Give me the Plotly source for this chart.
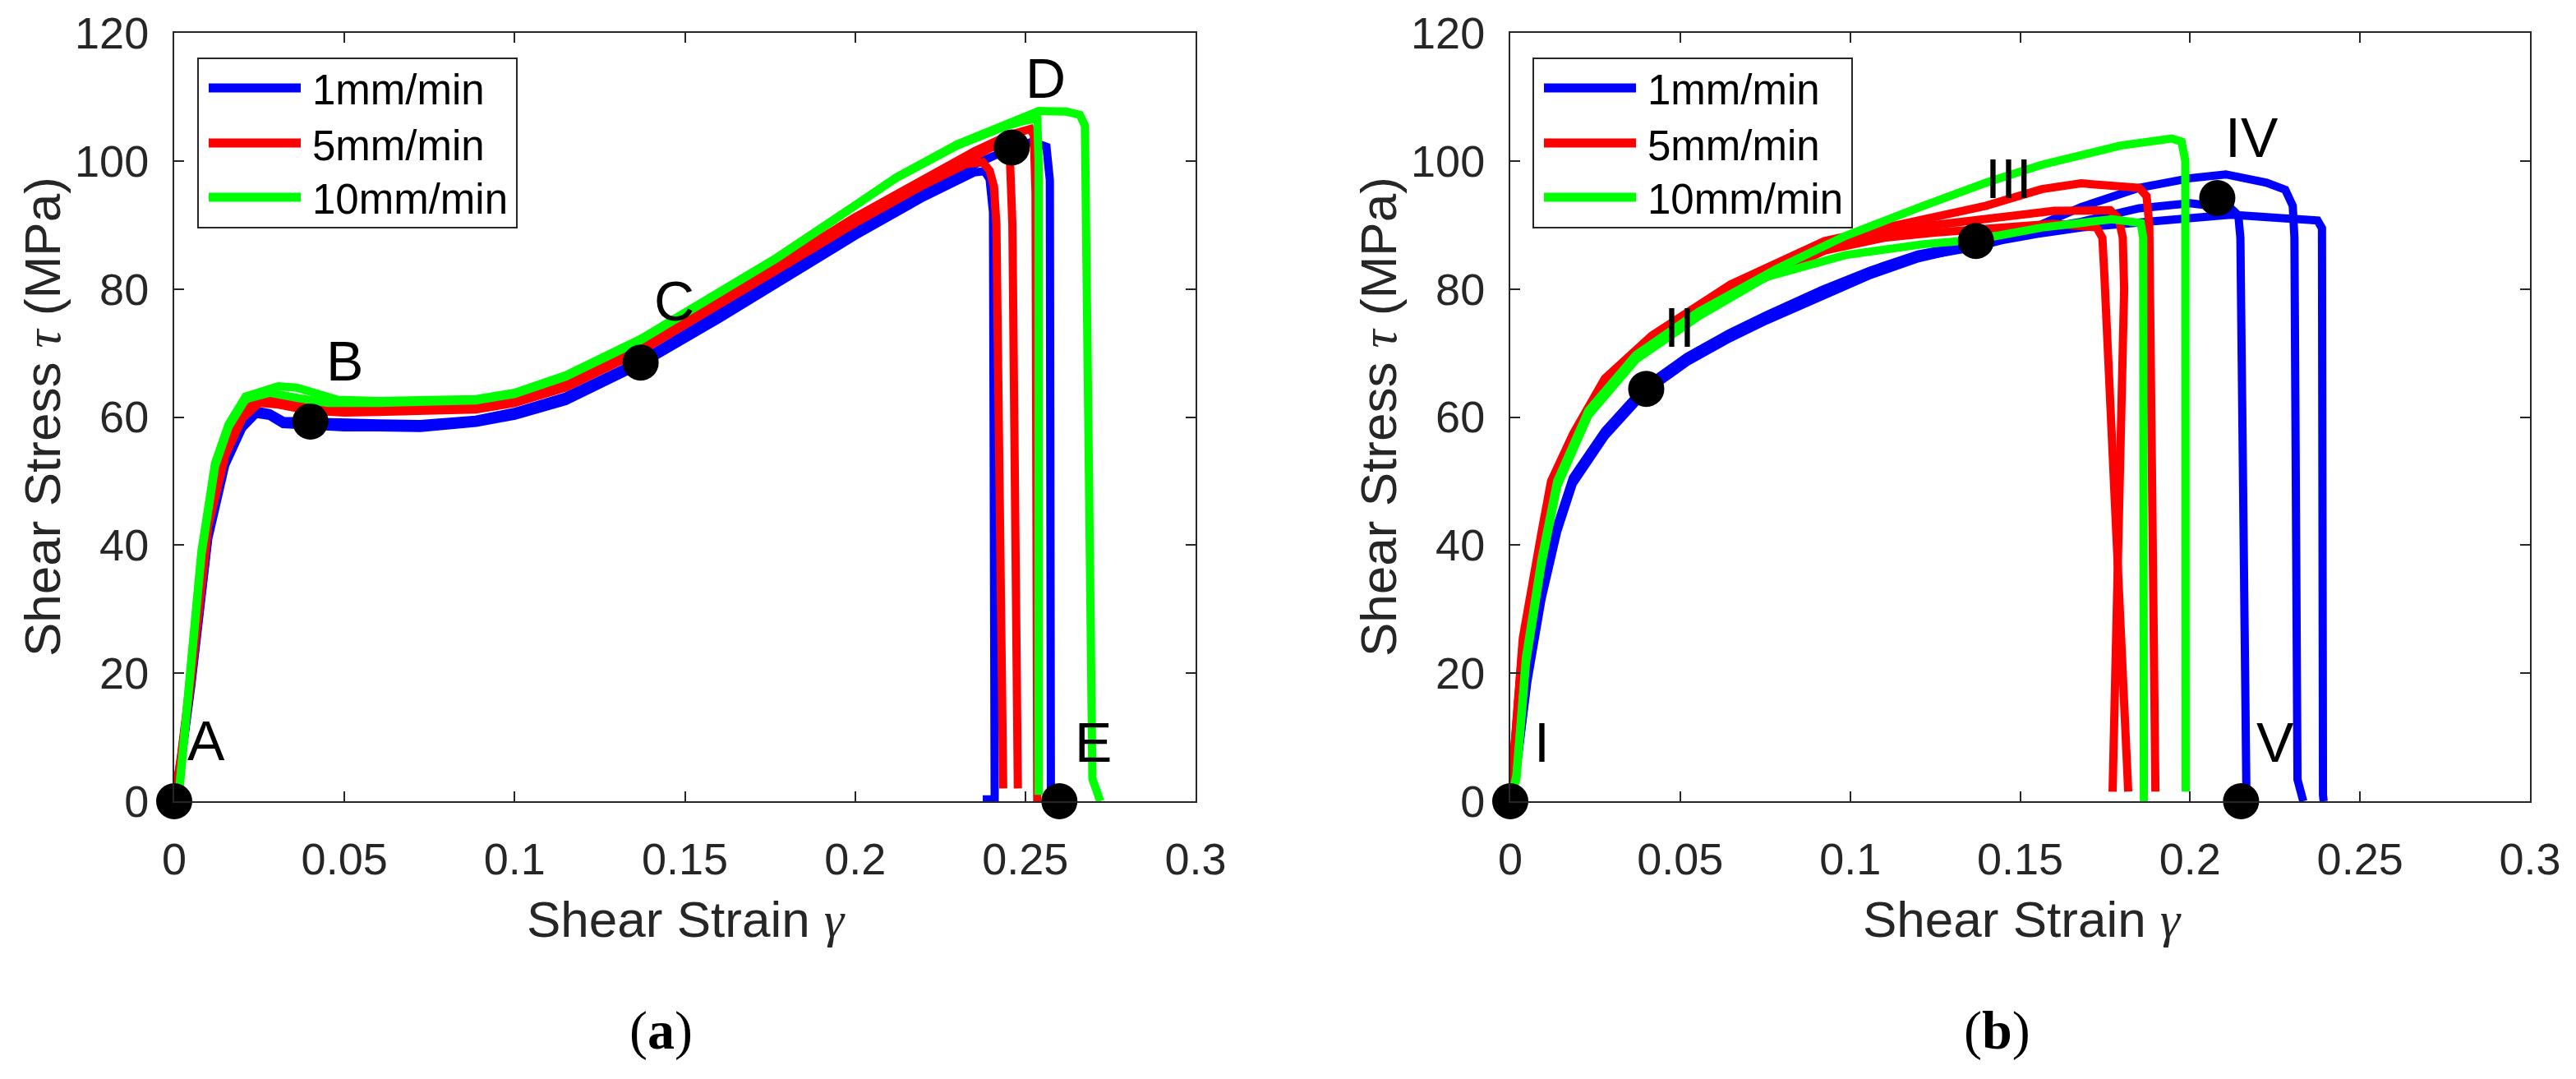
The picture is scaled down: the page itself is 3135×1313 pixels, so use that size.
import plotly.graph_objects as go

# ---------------- data : panel (a) ----------------
a_blue1_x = [0, 0.002, 0.005, 0.01, 0.015, 0.02, 0.024, 0.028, 0.032, 0.04, 0.05, 0.06, 0.0724, 0.0886, 0.10, 0.115, 0.137, 0.16, 0.18, 0.20, 0.22, 0.235, 0.238, 0.2395, 0.2405, 0.2410, 0.2410, 0.2375]
a_blue1_y = [0, 6, 18, 41, 52.5, 58.3, 60.5, 60.2, 58.9, 58.6, 58.4, 58.4, 58.3, 59.1, 60.2, 62.5, 68.2, 75.3, 81.8, 88.3, 94.3, 98.2, 98.4, 97.2, 92, 1, 0.3, 0.3]
a_blue2_x = [0, 0.002, 0.005, 0.01, 0.015, 0.02, 0.024, 0.028, 0.032, 0.04, 0.05, 0.06, 0.0724, 0.0886, 0.10, 0.115, 0.137, 0.16, 0.18, 0.20, 0.22, 0.235, 0.245, 0.252, 0.2562, 0.2572, 0.2575, 0.2578]
a_blue2_y = [0, 6.5, 18.5, 41.5, 53, 59, 61, 60.6, 59.4, 59.2, 59.0, 59.0, 58.9, 59.6, 60.8, 63.2, 68.8, 76.0, 82.6, 89.2, 95.2, 99.4, 101.8, 103.0, 102.2, 97, 2, 0]

a_red1_x = [0, 0.002, 0.005, 0.01, 0.015, 0.02, 0.025, 0.03, 0.04, 0.05, 0.06, 0.0724, 0.0886, 0.10, 0.115, 0.137, 0.16, 0.18, 0.20, 0.22, 0.2325, 0.2375, 0.2395, 0.2408, 0.2415, 0.2435]
a_red1_y = [0, 6.5, 19, 43, 54, 59.8, 62.2, 62.0, 61.0, 60.7, 60.8, 61.0, 61.2, 62.2, 64.6, 70.3, 77.4, 83.9, 90.3, 96.2, 99.5, 99.8, 98.5, 96, 90, 2]
a_red2_x = [0, 0.002, 0.005, 0.01, 0.015, 0.02, 0.025, 0.03, 0.04, 0.05, 0.06, 0.0724, 0.0886, 0.10, 0.115, 0.137, 0.16, 0.18, 0.20, 0.22, 0.235, 0.2425, 0.2445, 0.2455, 0.2462, 0.2478]
a_red2_y = [0, 6.8, 19.5, 43.5, 54.5, 60.2, 62.6, 62.3, 61.4, 61.1, 61.2, 61.4, 61.6, 62.6, 65.0, 70.6, 77.8, 84.3, 90.8, 96.6, 100.8, 102.8, 102.6, 100, 90, 2]
a_red3_x = [0, 0.002, 0.005, 0.01, 0.015, 0.02, 0.025, 0.03, 0.04, 0.05, 0.06, 0.0724, 0.0886, 0.10, 0.115, 0.137, 0.16, 0.18, 0.20, 0.22, 0.235, 0.245, 0.2515, 0.2525, 0.2530, 0.2535]
a_red3_y = [0, 7, 20, 44, 55, 60.6, 62.8, 62.6, 61.8, 61.5, 61.6, 61.8, 62.0, 63.0, 65.4, 71.0, 78.2, 84.7, 91.2, 97.0, 101.5, 104.0, 105.0, 104, 95, 0]

a_green1_x = [0, 0.0016, 0.0048, 0.008, 0.012, 0.016, 0.021, 0.0306, 0.036, 0.042, 0.048, 0.06, 0.0724, 0.0886, 0.10, 0.115, 0.137, 0.159, 0.177, 0.195, 0.212, 0.23, 0.244, 0.25, 0.2535, 0.2539, 0.2539]
a_green1_y = [0, 2.5, 20.8, 39, 52.8, 58.9, 63.2, 64.8, 64.6, 63.5, 62.7, 62.5, 62.5, 62.8, 63.8, 66.5, 72.2, 79.3, 84.9, 91.3, 97.3, 102.4, 105.4, 106.3, 106.6, 100, 1]
a_green2_x = [0, 0.0016, 0.0048, 0.008, 0.012, 0.016, 0.021, 0.028, 0.036, 0.045, 0.06, 0.0724, 0.0886, 0.10, 0.115, 0.137, 0.159, 0.177, 0.195, 0.212, 0.23, 0.244, 0.25, 0.254, 0.262, 0.266, 0.2675, 0.2697, 0.272]
a_green2_y = [0, 2.3, 20.3, 38.5, 52.3, 58.5, 62.8, 63.8, 63.0, 62.2, 62.2, 62.3, 62.6, 63.6, 66.3, 72.0, 79.1, 84.8, 91.2, 97.4, 102.6, 105.6, 107.0, 107.8, 107.7, 107.2, 105.5, 3.5, 0]

a_points_x = [0, 0.04, 0.137, 0.246, 0.26]
a_points_y = [0, 59.3, 68.5, 102.1, 0]
a_labels = ["A", "B", "C", "D", "E"]
a_label_x = [0.0094, 0.050, 0.1468, 0.2559, 0.270]
a_label_y = [9.5, 68.8, 78.1, 112.9, 9.2]

# ---------------- data : panel (b) ----------------
b_blueX_x = [0, 0.002, 0.005, 0.0092, 0.0138, 0.0184, 0.0278, 0.0396, 0.052, 0.0645, 0.0754, 0.092, 0.106, 0.12, 0.137, 0.1445, 0.155, 0.168, 0.19, 0.212, 0.2375, 0.2388, 0.2391, 0.2393]
b_blueX_y = [0, 6, 19, 32, 42.5, 50, 57.4, 64.3, 69, 72.7, 75.5, 79.5, 82.5, 85, 86.6, 87.6, 88.6, 89.6, 90.6, 91.6, 90.7, 89.5, 1, 0]
b_blueY_x = [0, 0.002, 0.005, 0.0092, 0.0138, 0.0184, 0.0278, 0.0396, 0.052, 0.0645, 0.0754, 0.092, 0.106, 0.12, 0.137, 0.1445, 0.155, 0.168, 0.185, 0.20, 0.212, 0.2142, 0.2148, 0.2166]
b_blueY_y = [0, 6.3, 19.5, 32.5, 43, 50.5, 57.8, 64.7, 69.4, 73.1, 75.9, 79.9, 82.9, 85.4, 87.1, 88.2, 89.3, 90.5, 92.6, 93.4, 92.6, 91.5, 88, 0]
b_blueZ_x = [0, 0.002, 0.005, 0.0092, 0.0138, 0.0184, 0.0278, 0.0396, 0.052, 0.0645, 0.0754, 0.092, 0.106, 0.12, 0.137, 0.1445, 0.155, 0.168, 0.185, 0.20, 0.2105, 0.2225, 0.228, 0.2302, 0.2307, 0.2316, 0.2333]
b_blueZ_y = [0, 5.7, 18.6, 31.6, 42.1, 49.6, 57.0, 63.9, 68.6, 72.3, 75.1, 79.1, 82.2, 84.8, 86.9, 88.3, 89.8, 92.8, 95.8, 97.3, 97.9, 96.6, 95.5, 93, 88, 3.4, 0]

b_redA_x = [0, 0.001, 0.0037, 0.0092, 0.012, 0.0185, 0.0278, 0.0416, 0.0648, 0.0925, 0.11, 0.125, 0.14, 0.1564, 0.168, 0.185, 0.1872, 0.1880, 0.1898]
b_redA_y = [0, 8, 25.5, 42, 50, 57.4, 66, 72.7, 80.7, 87.5, 89.5, 91.5, 93, 95.6, 96.5, 95.8, 94.5, 90, 1.5]
b_redB_x = [0, 0.001, 0.0037, 0.0092, 0.012, 0.0185, 0.0278, 0.0416, 0.0648, 0.0925, 0.11, 0.125, 0.14, 0.16, 0.1765, 0.179, 0.1802, 0.1806, 0.1772]
b_redB_y = [0, 7.6, 24.8, 41.3, 49.3, 56.8, 65.3, 72.0, 80.0, 86.7, 88.8, 90.0, 91.0, 92.2, 92.3, 91, 88, 80, 1.5]
b_redC_x = [0, 0.001, 0.0037, 0.0092, 0.012, 0.0185, 0.0278, 0.0416, 0.0648, 0.0925, 0.11, 0.125, 0.14, 0.16, 0.1725, 0.1742, 0.1748, 0.1818]
b_redC_y = [0, 7.3, 24.2, 40.6, 48.7, 56.2, 64.7, 71.4, 79.3, 86.0, 88.0, 88.8, 89.5, 90.2, 89.6, 88, 82, 1.5]

b_greenA_x = [0, 0.0018, 0.0046, 0.0092, 0.0138, 0.023, 0.037, 0.0556, 0.0786, 0.0986, 0.1216, 0.140, 0.1564, 0.1796, 0.1946, 0.1975, 0.1986, 0.1987]
b_greenA_y = [0, 4, 22.4, 37.8, 50, 61, 69.7, 76.5, 83.2, 88.3, 93, 96.6, 99.4, 102.4, 103.5, 103, 100, 1.5]
b_greenB_x = [0, 0.0018, 0.0046, 0.0092, 0.0138, 0.023, 0.037, 0.0556, 0.0754, 0.0986, 0.1216, 0.137, 0.1564, 0.177, 0.1855, 0.1862, 0.1864]
b_greenB_y = [0, 3.5, 21.5, 37, 49.2, 60.3, 69, 75.8, 81.9, 85.3, 87, 87.7, 89.6, 90.9, 90.3, 88, 0]

b_points_x = [0, 0.04, 0.137, 0.208, 0.215]
b_points_y = [0, 64.4, 87.5, 94.2, 0]
b_labels = ["I", "II", "III", "IV", "V"]
b_label_x = [0.0092, 0.0497, 0.1467, 0.2182, 0.225]
b_label_y = [9.2, 74.0, 97.3, 103.7, 9.2]

legend_names = ["1mm/min", "5mm/min", "10mm/min"]
x_ticks = [0, 0.05, 0.1, 0.15, 0.2, 0.25, 0.3]
y_ticks = [0, 20, 40, 60, 80, 100, 120]
x_title = "Shear Strain <span style='font-family:Liberation Serif'><i>γ</i></span>"
y_title = "Shear Stress <span style='font-family:Liberation Serif'><i>τ</i></span> (MPa)"
captions = ["(<b>a</b>)", "(<b>b</b>)"]

# ---------------- styling ----------------
W, H = 3135, 1313
BLUE, RED, GREEN = "#0000FF", "#FF0000", "#00FF00"
AX = "#262626"
SANS = "Liberation Sans, Arial, sans-serif"
LW = 10


def px(x):
    return x / W


def py(y):
    return 1 - y / H


fig = go.Figure()


def curve(x, y, color, xa, ya):
    fig.add_trace(go.Scatter(x=x, y=y, mode="lines", line=dict(color=color, width=LW),
                             xaxis=xa, yaxis=ya, showlegend=False, hoverinfo="skip",
                             cliponaxis=False))


panel_a = [(a_blue1_x, a_blue1_y, BLUE), (a_blue2_x, a_blue2_y, BLUE),
           (a_red1_x, a_red1_y, RED), (a_red2_x, a_red2_y, RED), (a_red3_x, a_red3_y, RED),
           (a_green1_x, a_green1_y, GREEN), (a_green2_x, a_green2_y, GREEN)]
panel_b = [(b_blueX_x, b_blueX_y, BLUE), (b_blueY_x, b_blueY_y, BLUE), (b_blueZ_x, b_blueZ_y, BLUE),
           (b_redA_x, b_redA_y, RED), (b_redB_x, b_redB_y, RED), (b_redC_x, b_redC_y, RED),
           (b_greenA_x, b_greenA_y, GREEN), (b_greenB_x, b_greenB_y, GREEN)]

for x, y, c in panel_a:
    curve(x, y, c, "x", "y")
for x, y, c in panel_b:
    curve(x, y, c, "x2", "y2")

fig.add_trace(go.Scatter(x=a_points_x, y=a_points_y, mode="markers", xaxis="x", yaxis="y",
                         marker=dict(color="black", size=44), showlegend=False, cliponaxis=False))
fig.add_trace(go.Scatter(x=b_points_x, y=b_points_y, mode="markers", xaxis="x2", yaxis="y2",
                         marker=dict(color="black", size=44), showlegend=False, cliponaxis=False))

axis_common = dict(showline=True, linecolor=AX, linewidth=2, mirror="ticks", ticks="inside",
                   ticklen=12, tickwidth=2, tickcolor=AX, showgrid=False, zeroline=False,
                   automargin=False, tickfont=dict(family=SANS, size=54, color=AX))
ydom = [py(975), py(40)]
fig.update_layout(
    template="none",
    width=W, height=H, margin=dict(l=0, r=0, t=0, b=0, pad=0, autoexpand=False),
    paper_bgcolor="white", plot_bgcolor="white", showlegend=False,
    xaxis=dict(domain=[px(212), px(1455)], range=[0, 0.3], tickvals=x_ticks, anchor="y",
               ticklabelstandoff=22, **axis_common),
    yaxis=dict(domain=ydom, range=[0, 120], tickvals=y_ticks, anchor="x",
               ticklabelstandoff=18, **axis_common),
    xaxis2=dict(domain=[px(1838), px(3079)], range=[0, 0.3], tickvals=x_ticks, anchor="y2",
                ticklabelstandoff=22, **axis_common),
    yaxis2=dict(domain=ydom, range=[0, 120], tickvals=y_ticks, anchor="x2",
                ticklabelstandoff=18, **axis_common),
)

ann = []
shapes = []
# point labels
for lx, ly, t in zip(a_label_x, a_label_y, a_labels):
    ann.append(dict(x=lx, y=ly, xref="x", yref="y", text=t, showarrow=False,
                    font=dict(family=SANS, size=68, color="black"), xanchor="center", yanchor="middle"))
for lx, ly, t in zip(b_label_x, b_label_y, b_labels):
    ann.append(dict(x=lx, y=ly, xref="x2", yref="y2", text=t, showarrow=False,
                    font=dict(family=SANS, size=68, color="black"), xanchor="center", yanchor="middle"))

# axis titles and captions
for off, cap in zip([0, 1626], captions):
    ann.append(dict(x=px(835 + off), y=py(1118), xref="paper", yref="paper", text=x_title,
                    showarrow=False, font=dict(family=SANS, size=62, color=AX),
                    xanchor="center", yanchor="middle"))
    ann.append(dict(x=px(51 + off), y=py(507), xref="paper", yref="paper", text=y_title,
                    showarrow=False, font=dict(family=SANS, size=62, color=AX), textangle=-90,
                    xanchor="center", yanchor="middle"))
    ann.append(dict(x=px(804 + off), y=py(1254), xref="paper", yref="paper", text=cap,
                    showarrow=False, font=dict(family="Liberation Serif, Times New Roman, serif", size=66, color="black"),
                    xanchor="center", yanchor="middle"))

# legend boxes (one per panel)
for off in [0, 1625]:
    shapes.append(dict(type="rect", xref="paper", yref="paper", x0=px(241 + off), x1=px(629 + off),
                       y0=py(277), y1=py(71), line=dict(color=AX, width=2), fillcolor="white", layer="above"))
    for name, col, yy in zip(legend_names, [BLUE, RED, GREEN], [107, 174, 240]):
        shapes.append(dict(type="line", xref="paper", yref="paper", x0=px(254 + off), x1=px(366 + off),
                           y0=py(yy), y1=py(yy), line=dict(color=col, width=11), layer="above"))
        ann.append(dict(x=px(378 + off), y=py(yy + 3), xref="paper", yref="paper", text=name,
                        showarrow=False, font=dict(family=SANS, size=51, color="black"),
                        xanchor="left", yanchor="middle"))

fig.update_layout(annotations=ann, shapes=shapes)
fig.write_html("out.html")
